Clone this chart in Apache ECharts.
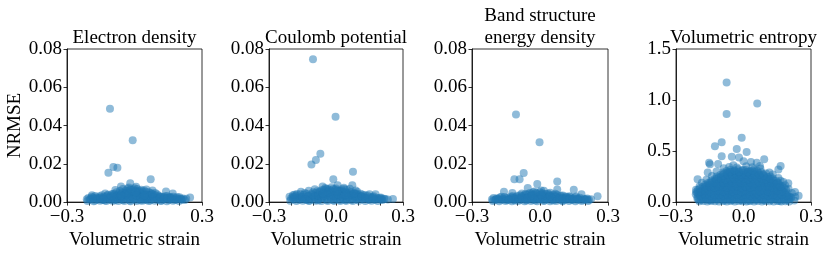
<!DOCTYPE html>
<html><head><meta charset="utf-8">
<script src="https://cdn.jsdelivr.net/npm/echarts@6/dist/echarts.min.js"></script>
<style>html,body{margin:0;padding:0;background:#fff}#c{width:830px;height:255px}</style>
</head><body><div id="c"></div>
<script>
const panelTitles = ['Electron density', 'Coulomb potential', 'Band structure\nenergy density', 'Volumetric entropy'];
const xTickLabels = ['\u22120.3', '0.0', '0.3'];
const yTicksSmall = ['0.00', '0.02', '0.04', '0.06', '0.08'];
const yTicksEntropy = ['0.0', '0.5', '1.0', '1.5'];

const electronDensity = [
[-0.109,0.0488],[-0.008,0.0323],[-0.094,0.0183],[-0.076,0.018],[-0.116,0.0154],[0.072,0.0119],[-0.019,0.0098],[-0.06,0.0081],[0.007,0.008],[-0.03,0.0071],[0.14,0.0055],[0.17,0.0045],[0.247,0.0024],[-0.189,0.0036],[-0.13,0.0045],[0.051,0.0054],[0.08,0.006],
[-0.212,0.0015],[-0.205,0.0022],[-0.198,0.0012],[-0.19,0.0028],[-0.183,0.0017],[-0.176,0.0009],[-0.17,0.0024],[-0.162,0.0014],[-0.155,0.0031],[-0.149,0.0019],[-0.142,0.0011],[-0.136,0.0026],[-0.128,0.0016],[-0.121,0.0034],[-0.115,0.0021],[-0.108,0.0012],[-0.102,0.0029],[-0.095,0.0018],[-0.089,0.0039],[-0.083,0.0024],[-0.077,0.0013],[-0.071,0.0045],[-0.066,0.0031],[-0.06,0.0019],[-0.054,0.0052],[-0.049,0.0036],[-0.043,0.0022],[-0.038,0.0061],[-0.033,0.0042],[-0.027,0.0027],[-0.022,0.0055],[-0.016,0.0033],[-0.011,0.0018],[-0.005,0.0066],[0.0,0.0045],[0.006,0.0029],[0.011,0.0058],[0.017,0.0038],[0.022,0.0021],[0.028,0.0049],[0.033,0.0032],[0.039,0.0016],[0.045,0.0044],[0.05,0.0027],[0.056,0.0014],[0.062,0.0039],[0.067,0.0024],[0.073,0.0047],[0.079,0.0031],[0.085,0.0017],[0.09,0.0036],[0.096,0.0022],[0.102,0.0012],[0.108,0.0033],[0.114,0.0019],[0.12,0.0028],[0.126,0.0014],[0.132,0.0025],[0.138,0.0017],[0.145,0.0032],[0.151,0.0011],[0.158,0.0023],[0.165,0.0015],[0.172,0.0028],[0.179,0.0012],[0.186,0.0021],[0.193,0.0016],[0.2,0.0025],[0.208,0.0013],[0.216,0.0019],[0.224,0.0011],
[-0.09,0.0008],[-0.07,0.0027],[-0.05,0.0011],[-0.035,0.0034],[-0.02,0.0009],[-0.008,0.0041],[0.004,0.0012],[0.015,0.0048],[0.026,0.0009],[0.036,0.0055],[0.047,0.0011],[0.06,0.0029],[0.07,0.0008],[-0.13,0.0008],[-0.11,0.0024],[-0.045,0.0048],[-0.015,0.0052],[0.02,0.0034],[0.1,0.0041],[0.12,0.0009],[-0.16,0.0021],[0.16,0.0027],[-0.065,0.0058],[0.0,0.0072],[0.03,0.0065],[-0.025,0.0076],[0.012,0.0069],[0.064,0.0052],[0.092,0.0048],[-0.1,0.0042],[-0.08,0.0051],
[-0.209,0.0006],[-0.195,0.0018],[-0.181,0.0005],[-0.167,0.0016],[-0.153,0.0007],[-0.139,0.0019],[-0.125,0.0006],[-0.112,0.0017],[-0.098,0.0007],[-0.085,0.0015],[-0.072,0.0006],[-0.058,0.0014],[-0.045,0.0006],[-0.031,0.0016],[-0.018,0.0005],[-0.004,0.0017],[0.009,0.0006],[0.023,0.0015],[0.036,0.0007],[0.05,0.0018],[0.063,0.0006],[0.077,0.0016],[0.09,0.0007],[0.104,0.0019],[0.117,0.0006],[0.131,0.0017],[0.144,0.0005],[0.158,0.0015],[0.171,0.0007],[0.185,0.0013],[0.198,0.0006],[0.212,0.0014],
[-0.175,0.0032],[-0.145,0.0036],[-0.118,0.0039],[-0.092,0.0044],[-0.074,0.0036],[-0.058,0.0043],[-0.04,0.005],[-0.03,0.0058],[-0.012,0.0061],[0.003,0.0056],[0.018,0.0052],[0.032,0.0044],[0.042,0.0061],[0.055,0.0034],[0.075,0.004],[0.11,0.0028],[0.135,0.0031],[0.155,0.0024],[0.19,0.0026],[0.23,0.0018],[-0.052,0.0068],[-0.018,0.0066],[0.024,0.0058],[-0.085,0.0063],[0.053,0.0066],
[-0.15,0.0024],[-0.14,0.0013],[-0.125,0.0028],[-0.105,0.0035],[-0.095,0.0025],[-0.08,0.0031],[-0.065,0.0022],[-0.055,0.0028],[-0.04,0.0038],[-0.025,0.0021],[-0.01,0.0029],[0.0,0.0019],[0.01,0.0036],[0.025,0.0026],[0.04,0.0032],[0.055,0.0023],[0.07,0.0035],[0.085,0.0027],[0.1,0.0022],[0.115,0.0026],[0.13,0.002],[0.145,0.0021],[0.165,0.002],[-0.185,0.0023],[0.205,0.0018],[-0.035,0.0047],[0.005,0.0052],[0.045,0.0036],[-0.06,0.0035],[0.08,0.0042]
];

const coulombPotential = [
[-0.103,0.0746],[-0.002,0.0446],[-0.07,0.0253],[-0.09,0.022],[-0.11,0.0196],[0.076,0.0159],[-0.012,0.0119],[-0.06,0.0081],[0.007,0.0088],[0.073,0.0088],[0.019,0.0059],[-0.157,0.0054],[-0.122,0.0059],[-0.193,0.0036],[0.177,0.0041],[0.15,0.0041],[0.255,0.0016],[0.22,0.0016],[0.095,0.0054],[0.062,0.007],[-0.02,0.0078],[-0.045,0.0069],[0.035,0.0075],
[-0.208,0.0028],[-0.201,0.0019],[-0.194,0.0025],[-0.186,0.0013],[-0.179,0.0034],[-0.172,0.0021],[-0.165,0.0012],[-0.158,0.0029],[-0.151,0.0018],[-0.144,0.0038],[-0.138,0.0024],[-0.131,0.0011],[-0.124,0.0033],[-0.117,0.0019],[-0.11,0.0042],[-0.104,0.0027],[-0.097,0.0014],[-0.091,0.0047],[-0.085,0.0031],[-0.079,0.0018],[-0.073,0.0055],[-0.067,0.0036],[-0.061,0.0022],[-0.055,0.0063],[-0.05,0.0043],[-0.044,0.0026],[-0.038,0.0068],[-0.032,0.0048],[-0.026,0.0029],[-0.02,0.0058],[-0.014,0.0039],[-0.008,0.0021],[-0.003,0.0064],[0.003,0.0046],[0.009,0.0027],[0.015,0.0057],[0.021,0.0036],[0.027,0.0019],[0.033,0.0052],[0.039,0.0033],[0.045,0.0016],[0.051,0.0047],[0.057,0.0029],[0.063,0.0054],[0.069,0.0035],[0.075,0.0019],[0.081,0.0043],[0.088,0.0026],[0.094,0.0013],[0.1,0.0037],[0.107,0.0022],[0.113,0.0031],[0.12,0.0015],[0.127,0.0028],[0.134,0.0019],[0.141,0.0034],[0.148,0.0012],[0.155,0.0026],[0.162,0.0017],[0.169,0.0031],[0.176,0.0013],[0.184,0.0022],[0.192,0.0016],[0.2,0.0024],[0.208,0.0011],[0.215,0.0017],
[-0.12,0.0009],[-0.1,0.0031],[-0.08,0.0009],[-0.06,0.0041],[-0.04,0.0011],[-0.025,0.0045],[-0.01,0.0009],[0.005,0.0034],[0.018,0.0011],[0.03,0.0042],[0.042,0.0009],[0.055,0.0038],[0.07,0.0011],[0.085,0.0048],[0.11,0.0044],[-0.14,0.0048],[-0.065,0.0062],[-0.03,0.0066],[0.0,0.0071],[0.025,0.0067],[0.048,0.0063],[-0.085,0.0057],[0.12,0.0038],[-0.175,0.0042],
[-0.205,0.0007],[-0.191,0.0016],[-0.177,0.0006],[-0.163,0.0018],[-0.149,0.0007],[-0.135,0.0016],[-0.121,0.0006],[-0.107,0.0019],[-0.093,0.0007],[-0.079,0.0015],[-0.065,0.0006],[-0.051,0.0017],[-0.037,0.0006],[-0.023,0.0015],[-0.009,0.0007],[0.005,0.0018],[0.019,0.0006],[0.033,0.0016],[0.047,0.0007],[0.061,0.0018],[0.075,0.0006],[0.089,0.0015],[0.103,0.0007],[0.117,0.0017],[0.131,0.0006],[0.145,0.0015],[0.159,0.0007],[0.173,0.0014],[0.187,0.0006],[0.201,0.0013],
[-0.186,0.0038],[-0.16,0.0041],[-0.132,0.0044],[-0.103,0.0051],[-0.078,0.0046],[-0.058,0.0052],[-0.035,0.0058],[-0.016,0.0053],[0.006,0.0061],[0.028,0.0057],[0.045,0.0051],[0.068,0.0047],[0.09,0.0042],[0.105,0.0033],[0.13,0.0036],[0.165,0.0027],[0.195,0.0021],[0.232,0.0014],[-0.048,0.0074],[-0.012,0.0069],[0.038,0.0068],[0.088,0.0061],[-0.095,0.0067],
[-0.15,0.0027],[-0.14,0.0015],[-0.125,0.0031],[-0.105,0.0038],[-0.095,0.0028],[-0.08,0.0035],[-0.065,0.0025],[-0.055,0.0032],[-0.04,0.0041],[-0.025,0.0024],[-0.01,0.0033],[0.0,0.0022],[0.01,0.004],[0.025,0.0029],[0.04,0.0036],[0.055,0.0026],[0.07,0.0039],[0.085,0.003],[0.1,0.0025],[0.115,0.0028],[0.13,0.0022],[0.145,0.0023],[0.165,0.0021],[-0.185,0.0026],[0.205,0.0019],[-0.035,0.0052],[0.005,0.0055],[0.045,0.004],[-0.06,0.0046],[0.08,0.0045]
];

const bandEnergy = [
[-0.106,0.0458],[-0.002,0.0313],[-0.072,0.0152],[-0.113,0.0119],[-0.09,0.0119],[0.076,0.0107],[-0.012,0.0095],[-0.054,0.0074],[0.149,0.0064],[-0.159,0.0054],[0.076,0.0066],[0.254,0.003],[0.183,0.0041],[-0.122,0.0047],[0.017,0.0059],[-0.03,0.0052],[0.005,0.0061],[0.045,0.0049],[-0.08,0.0045],
[-0.212,0.0014],[-0.205,0.0021],[-0.198,0.0011],[-0.191,0.0019],[-0.184,0.0013],[-0.177,0.0024],[-0.17,0.0012],[-0.163,0.0018],[-0.156,0.0026],[-0.149,0.0011],[-0.142,0.0021],[-0.135,0.0015],[-0.128,0.0029],[-0.121,0.0012],[-0.114,0.0022],[-0.107,0.0016],[-0.1,0.0033],[-0.094,0.0019],[-0.087,0.0011],[-0.081,0.0031],[-0.075,0.0021],[-0.069,0.0036],[-0.063,0.0013],[-0.057,0.0027],[-0.051,0.0041],[-0.045,0.0018],[-0.039,0.0034],[-0.033,0.0012],[-0.027,0.0038],[-0.021,0.0024],[-0.015,0.0044],[-0.009,0.0016],[-0.003,0.0035],[0.003,0.0022],[0.009,0.0046],[0.015,0.0013],[0.021,0.0031],[0.027,0.0042],[0.033,0.0019],[0.039,0.0033],[0.045,0.0012],[0.051,0.0028],[0.057,0.0037],[0.063,0.0016],[0.069,0.0029],[0.075,0.0038],[0.081,0.0013],[0.087,0.0024],[0.093,0.0033],[0.099,0.0011],[0.106,0.0022],[0.113,0.0029],[0.12,0.0014],[0.127,0.0021],[0.134,0.0027],[0.141,0.0011],[0.148,0.0019],[0.155,0.0025],[0.162,0.0012],[0.169,0.0018],[0.176,0.0023],[0.184,0.0011],[0.192,0.0017],[0.2,0.0013],[0.208,0.0019],[0.216,0.0012],[0.225,0.0015],
[-0.11,0.0009],[-0.06,0.0009],[-0.02,0.0008],[0.02,0.0009],[0.06,0.0008],[0.1,0.0009],[-0.045,0.0048],[0.0,0.0052],[0.035,0.0045],[-0.065,0.0042],[0.1,0.0035],[0.13,0.0031],
[-0.208,0.0006],[-0.194,0.0015],[-0.18,0.0005],[-0.166,0.0014],[-0.152,0.0006],[-0.138,0.0016],[-0.124,0.0005],[-0.11,0.0015],[-0.096,0.0006],[-0.082,0.0017],[-0.068,0.0005],[-0.054,0.0015],[-0.04,0.0006],[-0.026,0.0017],[-0.012,0.0005],[0.002,0.0015],[0.016,0.0006],[0.03,0.0016],[0.044,0.0005],[0.058,0.0014],[0.072,0.0006],[0.086,0.0016],[0.1,0.0005],[0.114,0.0015],[0.128,0.0006],[0.142,0.0014],[0.156,0.0005],[0.17,0.0013],[0.184,0.0006],[0.198,0.0012],[0.212,0.0006],
[-0.12,0.0031],[-0.088,0.0036],[-0.06,0.0039],[-0.036,0.0043],[-0.018,0.0047],[0.012,0.0041],[0.04,0.0038],[0.065,0.0035],[0.09,0.0029],[0.118,0.0026],[0.16,0.0029],[-0.17,0.0028],[0.067,0.0044],[-0.025,0.0055],
[-0.15,0.0019],[-0.14,0.0011],[-0.125,0.0022],[-0.105,0.0026],[-0.095,0.002],[-0.08,0.0024],[-0.065,0.0018],[-0.055,0.0022],[-0.04,0.0029],[-0.025,0.0017],[-0.01,0.0023],[0.0,0.0015],[0.01,0.0028],[0.025,0.002],[0.04,0.0025],[0.055,0.0019],[0.07,0.0026],[0.085,0.002],[0.1,0.0018],[0.115,0.002],[0.13,0.0016],[0.145,0.0017],[0.165,0.0016],[-0.185,0.0018],[0.205,0.0015],[-0.035,0.0036],[0.005,0.0038],[0.045,0.003]
];

const volEntropy = [
[-0.205,0.035],[-0.188,0.022],[-0.17,0.041],[-0.152,0.018],[-0.135,0.037],[-0.118,0.025],[-0.1,0.044],[-0.083,0.015],[-0.066,0.032],[-0.048,0.021],[-0.031,0.046],[-0.013,0.019],[0.004,0.038],[0.021,0.013],[0.039,0.042],[0.056,0.024],[0.073,0.035],[0.09,0.017],[0.108,0.043],[0.125,0.026],[0.142,0.039],[0.16,0.012],[0.177,0.033],[0.195,0.021],[0.212,0.04],[0.226,0.016],
[-0.212,0.078],[-0.196,0.064],[-0.179,0.085],[-0.161,0.07],[-0.144,0.081],[-0.126,0.058],[-0.109,0.088],[-0.092,0.067],[-0.074,0.079],[-0.057,0.061],[-0.04,0.086],[-0.022,0.072],[-0.005,0.063],[0.013,0.084],[0.03,0.069],[0.047,0.08],[0.065,0.059],[0.082,0.076],[0.099,0.066],[0.117,0.087],[0.134,0.062],[0.151,0.077],[0.169,0.068],[0.186,0.083],[0.203,0.057],
[-0.203,0.118],[-0.187,0.104],[-0.169,0.122],[-0.152,0.107],[-0.134,0.126],[-0.117,0.099],[-0.1,0.116],[-0.083,0.128],[-0.065,0.103],[-0.048,0.121],[-0.03,0.109],[-0.013,0.125],[0.004,0.101],[0.022,0.119],[0.039,0.112],[0.056,0.127],[0.074,0.104],[0.091,0.117],[0.108,0.098],[0.126,0.123],[0.143,0.108],[0.16,0.115],[0.178,0.102],[0.19,0.12],
[-0.182,0.148],[-0.165,0.158],[-0.147,0.141],[-0.13,0.162],[-0.113,0.146],[-0.096,0.155],[-0.078,0.139],[-0.061,0.164],[-0.044,0.151],[-0.026,0.143],[-0.009,0.166],[0.008,0.149],[0.026,0.157],[0.043,0.14],[0.06,0.163],[0.078,0.152],[0.095,0.144],[0.112,0.161],[0.13,0.147],[0.147,0.156],[0.164,0.142],[0.172,0.158],
[-0.158,0.186],[-0.141,0.197],[-0.124,0.181],[-0.106,0.202],[-0.089,0.188],[-0.072,0.195],[-0.054,0.179],[-0.037,0.204],[-0.02,0.191],[-0.002,0.183],[0.015,0.199],[0.032,0.187],[0.05,0.194],[0.067,0.18],[0.084,0.203],[0.101,0.189],[0.119,0.196],[0.136,0.182],[0.153,0.192],
[-0.128,0.226],[-0.111,0.238],[-0.093,0.221],[-0.076,0.243],[-0.059,0.229],[-0.041,0.236],[-0.024,0.219],[-0.007,0.241],[0.01,0.227],[0.028,0.234],[0.045,0.222],[0.062,0.239],[0.08,0.228],[0.097,0.235],[0.114,0.224],[0.13,0.232],
[-0.104,0.266],[-0.087,0.278],[-0.07,0.262],[-0.052,0.281],[-0.035,0.269],[-0.018,0.274],[0.0,0.261],[0.017,0.279],[0.034,0.265],[0.052,0.276],[0.069,0.263],[0.086,0.272],[0.1,0.281],
[-0.075,0.305],[-0.058,0.318],[-0.04,0.302],[-0.023,0.321],[-0.006,0.309],[0.011,0.315],[0.028,0.303],[0.046,0.319],[0.06,0.307],
[-0.064,0.345],[-0.03,0.338],[0.012,0.352],[-0.045,0.362],[0.04,0.341],[-0.088,0.332],[0.075,0.33],[-0.12,0.3],[0.115,0.29],[0.13,0.27],[-0.14,0.255],[0.155,0.235],[-0.165,0.22],[0.165,0.21],[-0.185,0.19],[0.185,0.165],[-0.195,0.155],[0.2,0.13],[-0.21,0.1],[0.215,0.09],[0.23,0.05],
[0.245,0.062],[0.229,0.1],[0.199,0.185],[0.177,0.198],[-0.204,0.224],[-0.211,0.12],[-0.2,0.085],[0.2,0.05],[-0.159,0.289],[0.155,0.32],[0.165,0.354],[0.073,0.354],[-0.113,0.373],[-0.149,0.37],[0.0,0.40],[0.033,0.393],[-0.02,0.438],[0.092,0.419],[0.059,0.386],[-0.153,0.386],[-0.052,0.445],[-0.097,0.45],[-0.03,0.52],[0.014,0.49],[-0.127,0.548],[-0.097,0.587],[-0.008,0.63],[-0.075,0.864],[0.061,0.967],[-0.075,1.172],
[-0.196,0.008],[-0.178,0.011],[-0.161,0.006],[-0.143,0.012],[-0.126,0.009],[-0.109,0.005],[-0.091,0.011],[-0.074,0.007],[-0.057,0.01],[-0.039,0.006],[-0.022,0.012],[-0.004,0.008],[0.013,0.005],[0.03,0.011],[0.047,0.007],[0.064,0.01],[0.082,0.006],[0.099,0.012],[0.116,0.008],[0.134,0.005],[0.151,0.011],[0.168,0.007],[0.186,0.009],[0.203,0.006],
[-0.204,0.052],[-0.187,0.047],[-0.17,0.055],[-0.153,0.049],[-0.135,0.053],[-0.118,0.046],[-0.1,0.056],[-0.083,0.05],[-0.066,0.054],[-0.048,0.045],[-0.031,0.057],[-0.013,0.051],[0.004,0.048],[0.022,0.056],[0.039,0.05],[0.056,0.053],[0.074,0.046],[0.091,0.055],[0.108,0.049],[0.126,0.054],[0.143,0.047],[0.16,0.052],[0.178,0.05],[0.195,0.055],[0.21,0.048],
[-0.205,0.092],[-0.188,0.096],[-0.17,0.089],[-0.153,0.094],[-0.135,0.091],[-0.118,0.097],[-0.1,0.09],[-0.083,0.095],[-0.066,0.088],[-0.048,0.096],[-0.031,0.092],[-0.013,0.089],[0.004,0.095],[0.022,0.091],[0.039,0.094],[0.056,0.088],[0.074,0.096],[0.091,0.09],[0.108,0.093],[0.126,0.089],[0.143,0.095],[0.16,0.091],[0.178,0.094],[0.194,0.088],
[-0.195,0.134],[-0.178,0.131],[-0.16,0.136],[-0.143,0.129],[-0.126,0.135],[-0.108,0.132],[-0.091,0.137],[-0.074,0.13],[-0.056,0.134],[-0.039,0.131],[-0.021,0.136],[-0.004,0.129],[0.013,0.135],[0.03,0.132],[0.048,0.137],[0.065,0.13],[0.082,0.134],[0.1,0.131],[0.117,0.136],[0.134,0.129],[0.152,0.134],[0.168,0.131],[0.182,0.135],
[-0.17,0.171],[-0.152,0.168],[-0.135,0.174],[-0.118,0.169],[-0.1,0.173],[-0.083,0.167],[-0.066,0.172],[-0.048,0.169],[-0.031,0.175],[-0.013,0.168],[0.004,0.172],[0.022,0.17],[0.039,0.174],[0.056,0.167],[0.074,0.173],[0.091,0.169],[0.108,0.172],[0.126,0.168],[0.143,0.174],[0.16,0.17],
[-0.143,0.211],[-0.126,0.208],[-0.108,0.214],[-0.091,0.209],[-0.074,0.213],[-0.056,0.207],[-0.039,0.212],[-0.021,0.209],[-0.004,0.215],[0.013,0.208],[0.03,0.212],[0.048,0.21],[0.065,0.214],[0.082,0.207],[0.1,0.213],[0.117,0.209],[0.134,0.212],[0.146,0.206],
[-0.118,0.251],[-0.1,0.248],[-0.083,0.254],[-0.066,0.249],[-0.048,0.253],[-0.031,0.247],[-0.013,0.252],[0.004,0.249],[0.022,0.255],[0.039,0.248],[0.056,0.252],[0.074,0.25],[0.091,0.254],[0.108,0.247],[0.12,0.252],
[-0.09,0.291],[-0.072,0.288],[-0.055,0.294],[-0.038,0.289],[-0.02,0.293],[-0.003,0.287],[0.014,0.292],[0.032,0.289],[0.049,0.294],[0.066,0.288],[0.08,0.292],
[-0.2,0.024],[-0.18,0.029],[-0.16,0.026],[-0.14,0.022],[-0.12,0.028],[-0.1,0.025],[-0.08,0.03],[-0.06,0.023],[-0.04,0.027],[-0.02,0.031],[0.0,0.024],[0.02,0.028],[0.04,0.022],[0.06,0.029],[0.08,0.025],[0.1,0.027],[0.12,0.023],[0.14,0.03],[0.16,0.026],[0.18,0.024],[0.2,0.028],
[-0.19,0.066],[-0.17,0.071],[-0.15,0.063],[-0.13,0.069],[-0.11,0.072],[-0.09,0.064],[-0.07,0.07],[-0.05,0.067],[-0.03,0.073],[-0.01,0.065],[0.01,0.07],[0.03,0.064],[0.05,0.071],[0.07,0.068],[0.09,0.072],[0.11,0.065],[0.13,0.069],[0.15,0.063],[0.17,0.071],[0.19,0.066],
[-0.19,0.107],[-0.17,0.111],[-0.15,0.104],[-0.13,0.109],[-0.11,0.112],[-0.09,0.105],[-0.07,0.11],[-0.05,0.106],[-0.03,0.113],[-0.01,0.104],[0.01,0.109],[0.03,0.105],[0.05,0.112],[0.07,0.107],[0.09,0.11],[0.11,0.104],[0.13,0.108],[0.15,0.112],[0.17,0.106],
[-0.17,0.146],[-0.15,0.151],[-0.13,0.144],[-0.11,0.149],[-0.09,0.153],[-0.07,0.145],[-0.05,0.15],[-0.03,0.154],[-0.01,0.146],[0.01,0.152],[0.03,0.145],[0.05,0.149],[0.07,0.153],[0.09,0.146],[0.11,0.151],[0.13,0.144],[0.15,0.148],[0.165,0.152],
[-0.15,0.188],[-0.13,0.192],[-0.11,0.185],[-0.09,0.19],[-0.07,0.186],[-0.05,0.193],[-0.03,0.184],[-0.01,0.19],[0.01,0.187],[0.03,0.193],[0.05,0.185],[0.07,0.191],[0.09,0.186],[0.11,0.19],[0.13,0.188],[0.15,0.184],
[-0.12,0.227],[-0.1,0.231],[-0.08,0.224],[-0.06,0.229],[-0.04,0.233],[-0.02,0.226],[0.0,0.231],[0.02,0.224],[0.04,0.23],[0.06,0.226],[0.08,0.232],[0.1,0.225],[0.12,0.229],
[-0.09,0.264],[-0.07,0.27],[-0.05,0.266],[-0.03,0.272],[-0.01,0.265],[0.01,0.27],[0.03,0.273],[0.05,0.266],[0.07,0.271],[0.09,0.264],
[-0.06,0.298],[-0.04,0.31],[-0.02,0.3],[0.0,0.314],[0.02,0.297],[0.04,0.308]
];

const panelData = [electronDensity, coulombPotential, bandEnergy, volEntropy];
const yMax = [0.08, 0.08, 0.08, 1.5];
const yStep = [0.02, 0.02, 0.02, 0.5];
const gridLefts = [67, 269, 472, 676];
const gridWidths = [135, 134, 136, 135];

const FONT = '"Liberation Serif", "DejaVu Serif", serif';
const FS = 19;
const chart = echarts.init(document.getElementById('c'), null, {renderer: 'canvas'});

const grids = [], xAxes = [], yAxes = [], series = [], graphics = [];
for (let i = 0; i < 4; i++) {
  grids.push({left: gridLefts[i], top: 49, width: gridWidths[i], height: 154, show: true, borderColor: '#000', borderWidth: 0.8, containLabel: false});
  xAxes.push({
    gridIndex: i, type: 'value', min: -0.3, max: 0.3, interval: 0.1,
    name: 'Volumetric strain', nameLocation: 'middle', nameGap: 24,
    nameTextStyle: {fontFamily: FONT, fontSize: FS, color: '#000'},
    axisLine: {show: true, onZero: false, lineStyle: {color: '#000', width: 0.8}},
    axisTick: {show: true, inside: false, length: 3.5, lineStyle: {color: '#000', width: 0.8}},
    splitLine: {show: false},
    axisLabel: {
      margin: 5, fontFamily: FONT, fontSize: FS, color: '#000', showMinLabel: true, showMaxLabel: true,
      formatter: function (v) {
        const k = Math.round(v * 10);
        if (k === -3) return xTickLabels[0];
        if (k === 0) return xTickLabels[1];
        if (k === 3) return xTickLabels[2];
        return '';
      }
    }
  });
  const labels = i < 3 ? yTicksSmall : yTicksEntropy;
  yAxes.push({
    gridIndex: i, type: 'value', min: 0, max: yMax[i], interval: yStep[i],
    name: i === 0 ? 'NRMSE' : '', nameLocation: 'middle', nameGap: 42, nameRotate: 90,
    nameTextStyle: {fontFamily: FONT, fontSize: FS, color: '#000'},
    axisLine: {show: true, onZero: false, lineStyle: {color: '#000', width: 0.8}},
    axisTick: {show: true, inside: false, length: 3.5, lineStyle: {color: '#000', width: 0.8}},
    splitLine: {show: false},
    axisLabel: {
      margin: 5, fontFamily: FONT, fontSize: FS, color: '#000', showMinLabel: true, showMaxLabel: true,
      formatter: function (v) {
        const idx = Math.round(v / yStep[i]);
        return labels[idx] !== undefined ? labels[idx] : '';
      }
    }
  });
  series.push({
    type: 'scatter', xAxisIndex: i, yAxisIndex: i, data: panelData[i],
    symbol: 'circle', symbolSize: 8, clip: true,
    itemStyle: {color: '#1f77b4', opacity: 0.5},
    emphasis: {disabled: true}, silent: true, animation: false
  });
  graphics.push({
    type: 'text',
    x: gridLefts[i] + gridWidths[i] / 2, y: i === 2 ? 27 : 38,
    style: {text: panelTitles[i], fontFamily: FONT, fontSize: FS, fill: '#000', textAlign: 'center', textVerticalAlign: 'middle', lineHeight: 22}
  });
}

chart.setOption({
  animation: false,
  backgroundColor: '#fff',
  grid: grids, xAxis: xAxes, yAxis: yAxes, series: series, graphic: graphics
});
</script></body></html>
